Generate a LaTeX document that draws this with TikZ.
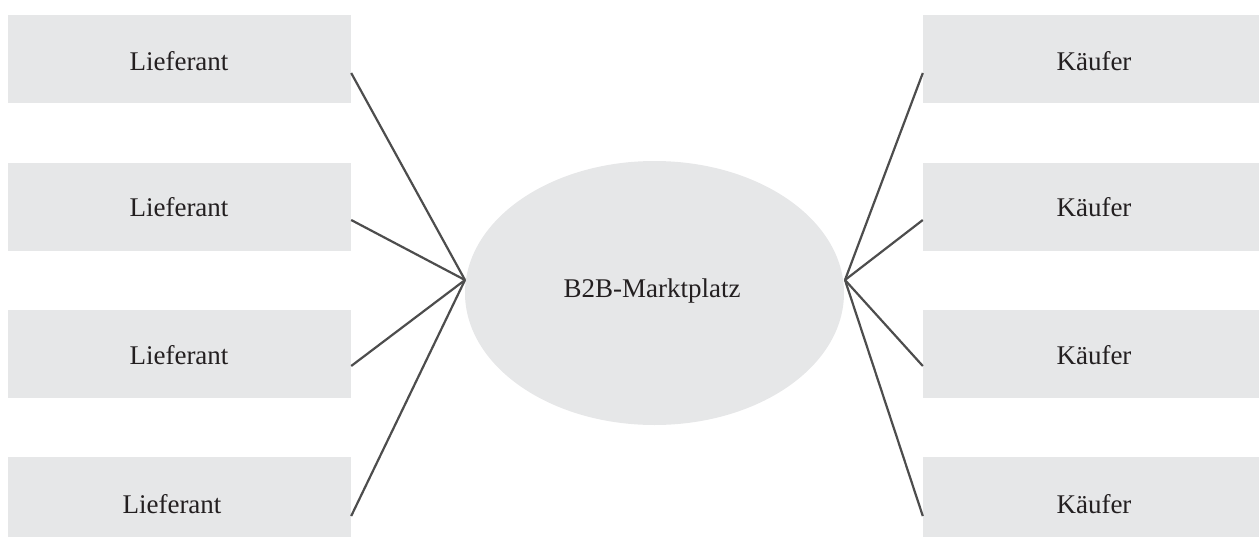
\documentclass[tikz,border=0pt]{standalone}
\usepackage{fontspec}
\setmainfont{Liberation Serif}
\usetikzlibrary{shapes.geometric}
\definecolor{boxgray}{HTML}{E6E7E8}
\definecolor{linegray}{HTML}{4D4D4D}
\definecolor{txt}{HTML}{231F20}
\tikzset{
  partybox/.style={fill=boxgray, draw=none, inner sep=0pt, minimum height=88pt},
  leftbox/.style={partybox, minimum width=343pt},
  rightbox/.style={partybox, minimum width=342pt},
  lbl/.style={text=txt, font=\fontsize{27}{32}\selectfont, inner sep=0pt},
  hub/.style={ellipse, fill=boxgray, draw=none, minimum width=379pt, minimum height=264pt, inner sep=0pt},
  conn/.style={draw=linegray, line width=2.2pt}
}
\begin{document}
\begin{tikzpicture}[x=1pt,y=-1pt]
\clip (0,0) rectangle (1259,536);
% boxes
\node[leftbox] (L1) at (179.5,58.5) {};
\node[leftbox] (L2) at (179.5,207) {};
\node[leftbox] (L3) at (179.5,354) {};
\node[leftbox] (L4) at (179.5,501) {};
\node[rightbox] (R1) at (1094,58.5) {};
\node[rightbox] (R2) at (1094,207) {};
\node[rightbox] (R3) at (1094,354) {};
\node[rightbox] (R4) at (1094,501) {};
% market place
\node[hub] (M) at (654.5,293) {};
\node[lbl] (Mt) at (652,291) {B2B-Marktplatz};
% labels
\node[lbl] (L1t) at (179,61.5) {Lieferant};
\node[lbl] (L2t) at (179,207.5) {Lieferant};
\node[lbl] (L3t) at (179,355) {Lieferant};
\node[lbl] (L4t) at (172,504.5) {Lieferant};
\node[lbl] (R1t) at (1094,61.5) {Käufer};
\node[lbl] (R2t) at (1094,207.5) {Käufer};
\node[lbl] (R3t) at (1094,355) {Käufer};
\node[lbl] (R4t) at (1094,504.5) {Käufer};
% hub points
\coordinate (hl) at (465,280);
\coordinate (hr) at (845,280);
% connectors
\foreach \n/\d in {1/14.5,2/13,3/12,4/15}{
  \draw[conn] ([yshift=-\d pt]L\n.east) -- (hl);
  \draw[conn] ([yshift=-\d pt]R\n.west) -- (hr);
}
\end{tikzpicture}
\end{document}
